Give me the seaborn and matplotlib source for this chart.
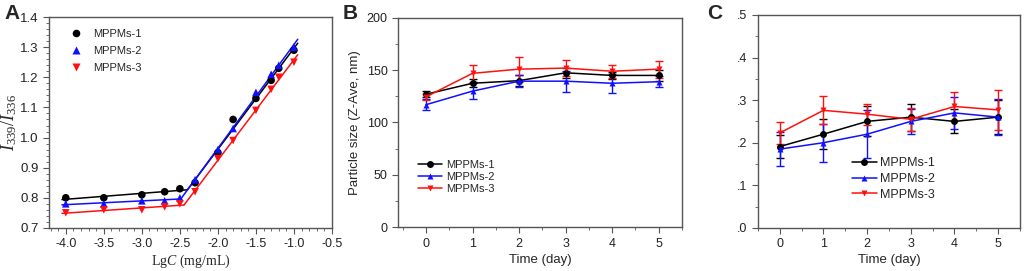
import numpy as np
import pandas as pd
import matplotlib
matplotlib.use("Agg")
import matplotlib.pyplot as plt
import seaborn as sns

# ---------------- data ----------------
series_names = ["MPPMs-1", "MPPMs-2", "MPPMs-3"]
colors = ["#000000", "#1010ff", "#ff1010"]
markers = ["o", "^", "v"]

lgc = [-4.0, -3.5, -3.0, -2.7, -2.5, -2.3, -2.0, -1.8, -1.5, -1.3, -1.2, -1.0]
ratio_1 = [0.80, 0.80, 0.81, 0.82, 0.83, 0.85, 0.95, 1.06, 1.13, 1.19, 1.23, 1.29]
ratio_2 = [0.78, 0.78, 0.79, 0.79, 0.80, 0.86, 0.96, 1.03, 1.15, 1.21, 1.24, 1.30]
ratio_3 = [0.75, 0.76, 0.76, 0.77, 0.78, 0.82, 0.93, 0.99, 1.09, 1.16, 1.20, 1.25]
n_low = 5  # points in the low-concentration branch
fit_span = [-4.05, -0.95]

days = [0, 1, 2, 3, 4, 5]
size_1 = [127, 137.5, 140, 147.5, 145, 145]
size_2 = [117, 130, 139.5, 139.5, 137.5, 139]
size_3 = [124.5, 147, 151, 152, 149, 151]
size_err_1 = [3, 4, 5, 5, 3, 5]
size_err_2 = [5, 8, 6, 10, 9, 5]
size_err_3 = [3, 8, 12, 8, 6, 8]

pdi_1 = [0.191, 0.220, 0.250, 0.260, 0.250, 0.260]
pdi_2 = [0.185, 0.200, 0.220, 0.250, 0.270, 0.260]
pdi_3 = [0.223, 0.276, 0.267, 0.255, 0.285, 0.277]
pdi_err_1 = [0.026, 0.035, 0.035, 0.032, 0.028, 0.040]
pdi_err_2 = [0.040, 0.045, 0.057, 0.030, 0.038, 0.042]
pdi_err_3 = [0.025, 0.033, 0.025, 0.027, 0.033, 0.046]

# ---------------- style ----------------
sns.set_style("ticks")
plt.rcParams["font.family"] = ["Liberation Sans", "DejaVu Sans"]
plt.rcParams["mathtext.fontset"] = "custom"
plt.rcParams["mathtext.rm"] = "Liberation Serif"
plt.rcParams["mathtext.it"] = "Liberation Serif:italic"
spine_c = "#555555"
plt.rcParams.update({
    "axes.edgecolor": spine_c, "axes.linewidth": 1.0,
    "xtick.color": spine_c, "ytick.color": spine_c,
    "xtick.labelcolor": "#222222", "ytick.labelcolor": "#222222",
    "xtick.direction": "out", "ytick.direction": "out",
    "xtick.major.size": 4, "ytick.major.size": 4,
    "xtick.minor.size": 2, "ytick.minor.size": 2,
    "xtick.labelsize": 9, "ytick.labelsize": 9,
})

fig = plt.figure(figsize=(10.24, 2.71), dpi=100)
axA = fig.add_axes([0.0479, 0.159, 0.2763, 0.778])
axB = fig.add_axes([0.3887, 0.162, 0.2773, 0.772])
axC = fig.add_axes([0.7402, 0.159, 0.2558, 0.786])

for ax in (axA, axB, axC):
    for s in ax.spines.values():
        s.set_visible(True)
        s.set_color(spine_c)

# ---------------- panel A ----------------
dfA = pd.DataFrame({
    "x": lgc * 3,
    "y": ratio_1 + ratio_2 + ratio_3,
    "s": sum([[n] * len(lgc) for n in series_names], []),
})
sns.scatterplot(data=dfA, x="x", y="y", hue="s", style="s",
                palette=colors, markers=markers, s=30, edgecolor="none",
                ax=axA, legend=True, zorder=3)
for ys, c in zip([ratio_1, ratio_2, ratio_3], colors):
    xa = np.array(lgc); ya = np.array(ys)
    p_lo = np.polyfit(xa[:n_low], ya[:n_low], 1)
    p_hi = np.polyfit(xa[n_low:], ya[n_low:], 1)
    xi = (p_hi[1] - p_lo[1]) / (p_lo[0] - p_hi[0])
    xl = np.array([fit_span[0], xi])
    xh = np.array([xi, fit_span[1]])
    sns.lineplot(x=xl, y=np.polyval(p_lo, xl), color=c, lw=1.1, ax=axA)
    sns.lineplot(x=xh, y=np.polyval(p_hi, xh), color=c, lw=1.1, ax=axA)
axA.set_xlim(-4.22, -0.5)
axA.set_ylim(0.7, 1.4)
axA.set_xticks(np.arange(-4.0, -0.49, 0.5))
axA.set_xticklabels([f"{v:.1f}" for v in np.arange(-4.0, -0.49, 0.5)])
axA.set_yticks(np.arange(0.7, 1.41, 0.1))
axA.set_yticklabels([f"{v:.1f}" for v in np.arange(0.7, 1.41, 0.1)])
axA.tick_params(axis="y", labelsize=9.5)
axA.minorticks_on()
axA.set_xlabel(r"Lg$\mathit{C}$ (mg/mL)", family="Liberation Serif", fontsize=10, labelpad=2)
axA.set_ylabel(r"$\mathit{I}_{339}/\mathit{I}_{336}$", fontsize=13, labelpad=1)
axA.legend(title=None, frameon=False, loc="upper left", fontsize=8,
           bbox_to_anchor=(0.02, 0.99), handletextpad=0.6, labelspacing=0.6)

# ---------------- panels B, C ----------------
def line_panel(ax, ys_list, err_list, mk_size):
    df = pd.DataFrame({
        "x": days * 3,
        "y": sum(ys_list, []),
        "s": sum([[n] * len(days) for n in series_names], []),
    })
    sns.lineplot(data=df, x="x", y="y", hue="s", style="s", palette=colors,
                 markers=markers, dashes=False, markersize=mk_size,
                 markeredgecolor="none", lw=1.1, ax=ax, zorder=3)
    for ys, es, c in zip(ys_list, err_list, colors):
        ax.errorbar(days, ys, yerr=es, fmt="none", ecolor=c, elinewidth=1.0,
                    capsize=3, capthick=1.0, zorder=2)

line_panel(axB, [size_1, size_2, size_3], [size_err_1, size_err_2, size_err_3], 5)
axB.set_xlim(-0.6, 5.5)
axB.set_ylim(0, 200)
axB.set_xticks(days)
axB.set_yticks([0, 50, 100, 150, 200])
axB.yaxis.set_minor_locator(matplotlib.ticker.MultipleLocator(25))
axB.xaxis.set_minor_locator(matplotlib.ticker.MultipleLocator(0.5))
axB.set_xlabel("Time (day)", fontsize=9.5, labelpad=3)
axB.set_ylabel("Particle size (Z-Ave, nm)", fontsize=9.5, labelpad=4)
axB.legend(title=None, frameon=False, loc="lower left", fontsize=8,
           bbox_to_anchor=(0.035, 0.11), handlelength=2.2, labelspacing=0.2,
           handletextpad=0.3)

line_panel(axC, [pdi_1, pdi_2, pdi_3], [pdi_err_1, pdi_err_2, pdi_err_3], 5)
axC.set_xlim(-0.5, 5.5)
axC.set_ylim(0, 0.5)
axC.set_xticks(days)
axC.set_yticks(np.arange(0, 0.51, 0.1))
axC.set_yticklabels([f"{v:.1f}"[1:] for v in np.arange(0, 0.51, 0.1)])
axC.yaxis.set_minor_locator(matplotlib.ticker.MultipleLocator(0.05))
axC.xaxis.set_minor_locator(matplotlib.ticker.MultipleLocator(0.5))
axC.set_xlabel("Time (day)", fontsize=9.5, labelpad=3)
axC.set_ylabel("")
axC.legend(title=None, frameon=False, loc="lower left", fontsize=9,
           bbox_to_anchor=(0.315, 0.075), handlelength=2.0, labelspacing=0.3,
           handletextpad=0.3)

# panel letters
fig.text(0.004, 0.985, "A", fontsize=15, fontweight="bold", va="top", ha="left")
fig.text(0.335, 0.985, "B", fontsize=15, fontweight="bold", va="top", ha="left")
fig.text(0.691, 0.985, "C", fontsize=15, fontweight="bold", va="top", ha="left")

fig.savefig("out.png", dpi=100)
